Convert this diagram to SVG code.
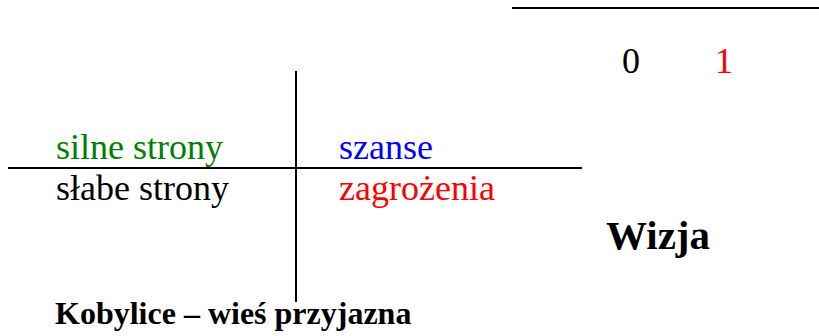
<svg xmlns="http://www.w3.org/2000/svg" width="819" height="336" viewBox="0 0 819 336">
<style>
.t{font-family:'Liberation Serif','DejaVu Serif',serif;font-size:36px;}
.b{font-family:'Liberation Serif','DejaVu Serif',serif;font-weight:bold;}
.ln{stroke:#000;stroke-width:2;fill:none;}
</style>
<rect width="819" height="336" fill="#fff"/>
<g id="connectors">
<line class="ln" x1="512" y1="8" x2="819" y2="8"/>
<line class="ln" x1="296" y1="71" x2="296" y2="302"/>
<line class="ln" x1="8" y1="168" x2="582" y2="168"/>
</g>
<g id="scale">
<text class="t" x="622" y="73" fill="#000">0</text>
<text class="t" x="715" y="73" fill="#f00">1</text>
</g>
<g id="strengths"><text class="t" x="56" y="159" fill="#008000">silne strony</text></g>
<g id="opportunities"><text class="t" x="339" y="159" fill="#00f">szanse</text></g>
<g id="weaknesses"><text class="t" x="56" y="200" fill="#000">słabe strony</text></g>
<g id="threats"><text class="t" x="339" y="200" fill="#f00">zagrożenia</text></g>
<g id="vision"><text class="b" x="606" y="249" font-size="41" fill="#000">Wizja</text></g>
<g id="title"><text class="b" x="55" y="324" font-size="32" fill="#000">Kobylice – wieś przyjazna</text></g>
</svg>
